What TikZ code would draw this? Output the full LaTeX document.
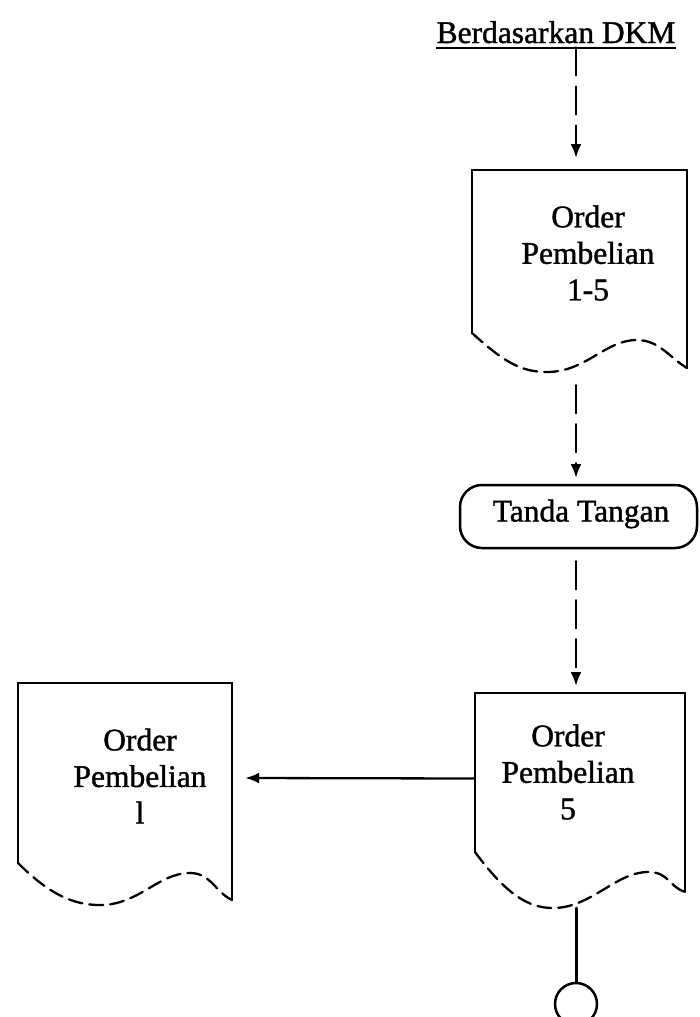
\documentclass[tikz,border=0pt]{standalone}
\usepackage{fontspec}
\setmainfont{Liberation Serif}
\newfontfamily\heavyserif[FakeBold=1.3]{Liberation Serif}
\usetikzlibrary{arrows.meta,calc}

\tikzset{
  every picture/.style={x=1pt,y=-1pt},
  base/.style={line width=2.3pt,line cap=round},
  docbox/.style={draw=none,minimum width=#1,inner sep=0pt},
  label/.style={font=\heavyserif\fontsize{31.5}{36.5}\selectfont,align=center,inner sep=0pt},
  wave/.style={base,dash pattern=on 14pt off 7pt},
  flow/.style={base,dash pattern=on 28pt off 11pt,-{Latex[length=14pt,width=11pt]}},
  solidflow/.style={base,-{Latex[length=14pt,width=11pt]}},
  terminal/.style={draw,line width=2.5pt,rounded corners=22pt,minimum width=237pt,minimum height=63pt,inner sep=0pt},
}

\begin{document}
\begin{tikzpicture}
\useasboundingbox (0,0) rectangle (699,1017);
\clip (0,0) rectangle (699,1017);

% heading
\node[label,anchor=base] (title) at (556,43) {Berdasarkan DKM};
\draw[line width=2.5pt] ([yshift=-5pt]title.base west) -- ([yshift=-5pt]title.base east);

% document: Order Pembelian 1-5
\node[docbox=215pt,minimum height=163pt] (d1) at (579.5,251.5) {};
\draw[base] (472,333) -- (472,170) -- (687,170) -- (687,368);
\draw[wave] (472,333) .. controls (504,362) and (521,372) .. (547,372)
  .. controls (586,372) and (605,340) .. (637,340)
  .. controls (659,340) and (670,358) .. (687,368);
\node[label] (t1) at (588,253) {Order\\Pembelian\\1-5};

% terminal: Tanda Tangan
\node[terminal] (term) at (578.5,516.5) {};
\node[label] (t2) at (581,514) {Tanda Tangan};

% document: Order Pembelian 5
\node[docbox=210pt,minimum height=159pt] (d2) at (580,772.5) {};
\draw[base] (475,852) -- (475,693) -- (685,693) -- (685,892);
\draw[wave] (475,852) .. controls (506,894) and (528,908) .. (553,908)
  .. controls (591,908) and (616,872) .. (648,872)
  .. controls (669,872) and (668,886) .. (685,892);
\node[label] (t3) at (568,772) {Order\\Pembelian\\5};

% document: Order Pembelian 1
\node[docbox=214pt,minimum height=180pt] (d3) at (125,773) {};
\draw[base] (18,863) -- (18,683) -- (232,683) -- (232,900);
\draw[wave] (18,863) .. controls (50,895) and (74,905) .. (100,905)
  .. controls (139,905) and (158,873) .. (190,873)
  .. controls (211,873) and (215,892) .. (232,900);
\node[label] (t4) at (140,776) {Order\\Pembelian\\l};

% connector end
\node[draw,circle,line width=2.5pt,minimum size=42pt,inner sep=0pt] (conn) at (576,1004) {};

% flow lines
\draw[flow] ([yshift=-4pt]title.south -| 576,0) -- (576,158);
\draw[flow] ([yshift=-52pt]d1.south -| 576,0) -- (576,478);
\draw[flow] ([yshift=-12pt]term.south -| 576,0) -- (576,686);
\draw[solidflow] ([yshift=-6pt]d2.west) -- ([xshift=13pt,yshift=-5pt]d3.east);
\draw[base,line width=3pt] ([yshift=-56pt]d2.south -| conn.north) -- (conn.north);
\end{tikzpicture}
\end{document}
